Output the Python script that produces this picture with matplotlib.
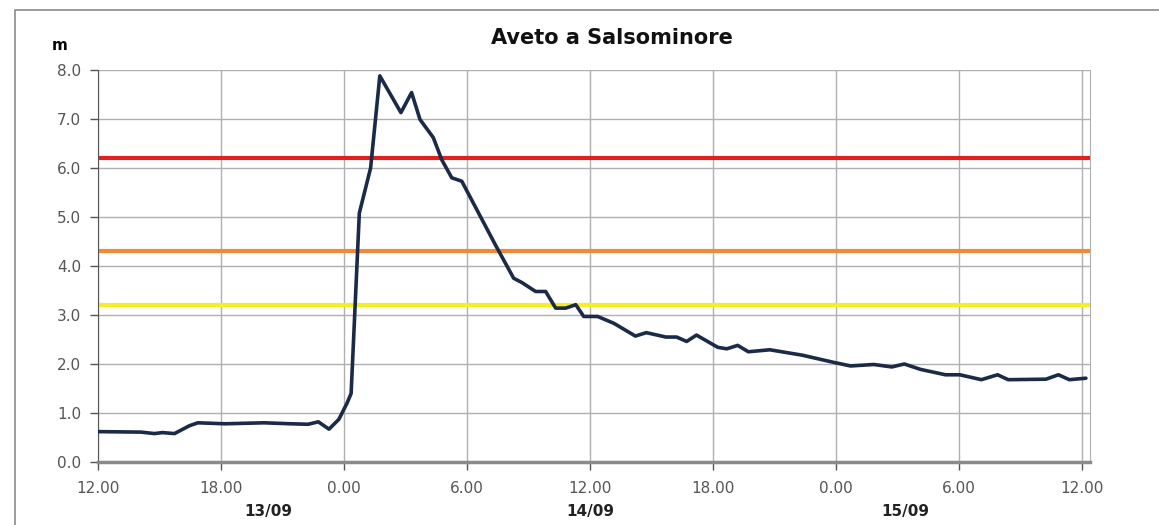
import matplotlib
matplotlib.use("Agg")
from matplotlib import pyplot as plt
from matplotlib.patches import Rectangle

plt.rcParams['font.family'] = ['DejaVu Sans']

# hours from 12.00 on 13/09, water level in m
hours = [0.0, 2.1, 2.75, 3.15, 3.73, 4.46, 4.87, 6.2, 8.1, 9.4, 10.25, 10.75,
         11.27, 11.75, 12.15, 12.35, 12.75, 13.3, 13.75, 14.78, 15.3, 15.71,
         16.36, 16.77, 17.26, 17.75, 18.57, 19.39, 20.28, 20.69, 21.35, 21.84,
         22.33, 22.82, 23.31, 23.7, 24.38, 25.17, 26.22, 26.75, 27.71, 28.23,
         28.72, 29.2, 30.24, 30.68, 31.21, 31.73, 32.78, 34.36, 35.93, 36.72,
         37.85, 38.73, 39.34, 40.13, 41.35, 42.05, 43.1, 43.89, 44.41, 46.25,
         46.86, 47.39, 48.2]
level = [0.62, 0.61, 0.58, 0.6, 0.58, 0.74, 0.8, 0.78, 0.8, 0.78, 0.77, 0.82,
         0.67, 0.87, 1.2, 1.4, 5.08, 6.0, 7.88, 7.13, 7.54, 6.99,
         6.62, 6.17, 5.8, 5.73, 5.08, 4.43, 3.75, 3.66, 3.48, 3.48,
         3.14, 3.14, 3.21, 2.97, 2.97, 2.83, 2.57, 2.64, 2.55, 2.55,
         2.46, 2.59, 2.34, 2.31, 2.38, 2.25, 2.29, 2.18, 2.03, 1.96,
         1.99, 1.94, 2.0, 1.89, 1.78, 1.78, 1.68, 1.78, 1.68, 1.69,
         1.78, 1.68, 1.71]

thresholds = [6.2, 4.3, 3.2]
threshold_colors = ['#e3201b', '#f0893a', '#f4ef24']

tick_hours = [0, 6, 12, 18, 24, 30, 36, 42, 48]
tick_labels = ['12.00', '18.00', '0.00', '6.00', '12.00', '18.00', '0.00', '6.00', '12.00']
days = ['13/09', '14/09', '15/09']
day_pos = [8.3, 24.0, 39.4]

fig = plt.figure(figsize=(11.59, 5.25), dpi=100)
fig.patches.append(Rectangle((15 / 1159, -0.05), 1.2, 1 - 10 / 525 + 0.05,
                             transform=fig.transFigure, fill=False,
                             edgecolor='#8a8a8a', linewidth=1.2))
ax = fig.add_axes([98 / 1159, 1 - 462 / 525, 992 / 1159, 392 / 525])

for t, c in zip(thresholds, threshold_colors):
    ax.axhline(t, color=c, linewidth=3, zorder=2)

ax.plot(hours, level, color='#1b2a47', linewidth=2.6, zorder=3,
        solid_joinstyle='round', solid_capstyle='round')

ax.set_xlim(0, 48.4)
ax.set_ylim(0, 8)
ax.set_xticks(tick_hours)
ax.set_xticklabels(tick_labels)
ax.set_yticks(range(0, 9))
ax.set_yticklabels(['%.1f' % v for v in range(0, 9)])
ax.grid(True, color='#b0b0b0', linewidth=1, zorder=0)
ax.set_axisbelow(True)
ax.spines['top'].set_visible(False)
ax.spines['right'].set_color('#b0b0b0')
ax.spines['left'].set_color('#555555')
ax.spines['bottom'].set_color('#8a8a8a')
ax.spines['bottom'].set_linewidth(2.5)
ax.tick_params(axis='both', colors='#555555', labelsize=11, length=6, width=1)
ax.tick_params(axis='x', pad=8)
ax.tick_params(axis='y', pad=6)

fig.text(612 / 1159, 1 - 38 / 525, 'Aveto a Salsominore', fontsize=15,
         fontweight='bold', ha='center', va='center', color='#111111')
fig.text(52 / 1159, 1 - 45 / 525, 'm', fontsize=11, fontweight='bold', va='center')
for d, p in zip(days, day_pos):
    ax.text(p, -0.127, d, transform=ax.get_xaxis_transform(), ha='center', va='center',
            fontsize=11, fontweight='bold', color='#222222')

fig.savefig('out.png', dpi=100)
